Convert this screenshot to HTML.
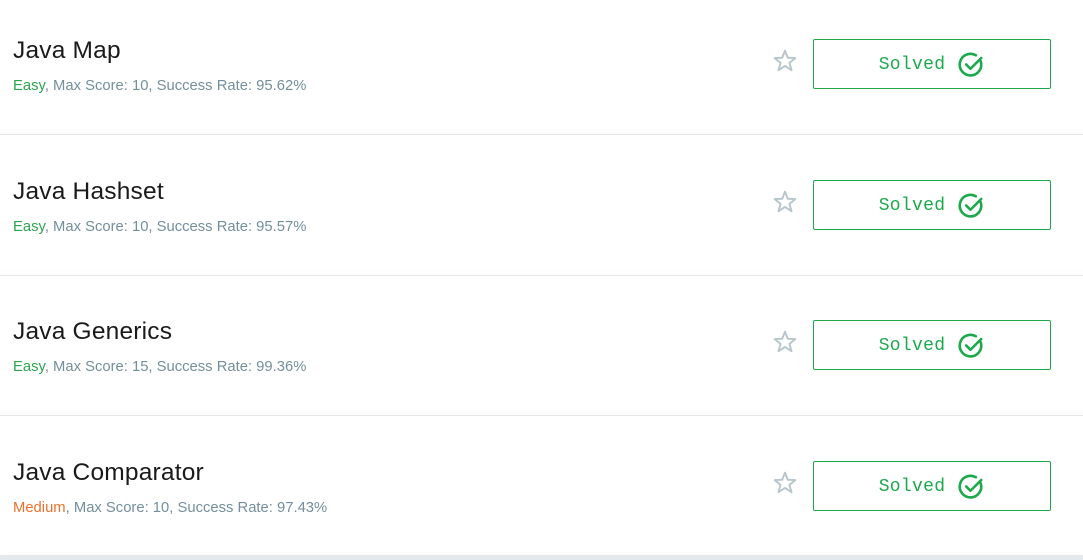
<!DOCTYPE html>
<html><head><meta charset="utf-8"><style>
body{margin:0;width:1083px;height:560px;background:#fff;overflow:hidden;font-family:"Liberation Sans",sans-serif;position:relative}
.card{position:absolute;left:0;width:1083px;height:134px;background:#fff;border-bottom:1px solid #e3e7ea;box-shadow:inset 0 -8px 8px -8px rgba(0,0,0,0.03)}
.title{position:absolute;left:13px;top:37px;font-size:24.5px;color:#1a1a1a;letter-spacing:0.2px}
.sub{position:absolute;left:13px;top:78px;font-size:14.8px;color:#738f9b}
.easy{color:#2ea44f}.med{color:#e8722c}
.star{position:absolute;left:772px;top:48px;width:26px;height:26px}
.btn{position:absolute;left:813px;top:39px;width:236px;height:48px;border:1px solid #1ba94c;border-radius:2px;color:#1ba94c;font-family:"Liberation Mono",monospace;font-size:18px;letter-spacing:0.3px;display:flex;align-items:center;justify-content:center;gap:10px;box-sizing:content-box;padding-top:2px;height:46px}
.btn svg{margin-left:2px}
.bottom{position:absolute;left:0;top:555px;width:1083px;height:5px;background:#e6e9eb}
</style></head><body>
<div class="card" style="top:0">
 <div class="title">Java Map</div>
 <div class="sub"><span class="easy">Easy</span>, Max Score: 10, Success Rate: 95.62%</div>
 <svg class="star" viewBox="0 0 24 24"><polygon points="12,2.5 14.6,9 21.5,9.3 16.1,13.7 18,20.5 12,16.6 6,20.5 7.9,13.7 2.5,9.3 9.4,9" fill="none" stroke="#b7c6cd" stroke-width="1.8" stroke-linejoin="round"/></svg>
 <div class="btn">Solved <svg width="28" height="28" viewBox="0 0 26 26"><path d="M22 9.5A10 10 0 1 1 17.5 4" fill="none" stroke="#1ba94c" stroke-width="2.4" stroke-linecap="round"/><path d="M8.5 12.5l4 4 10-10" fill="none" stroke="#1ba94c" stroke-width="2.4" stroke-linecap="round" stroke-linejoin="round"/></svg></div>
</div>
<div class="card" style="top:140.5px">
 <div class="title">Java Hashset</div>
 <div class="sub"><span class="easy">Easy</span>, Max Score: 10, Success Rate: 95.57%</div>
 <svg class="star" viewBox="0 0 24 24"><polygon points="12,2.5 14.6,9 21.5,9.3 16.1,13.7 18,20.5 12,16.6 6,20.5 7.9,13.7 2.5,9.3 9.4,9" fill="none" stroke="#b7c6cd" stroke-width="1.8" stroke-linejoin="round"/></svg>
 <div class="btn">Solved <svg width="28" height="28" viewBox="0 0 26 26"><path d="M22 9.5A10 10 0 1 1 17.5 4" fill="none" stroke="#1ba94c" stroke-width="2.4" stroke-linecap="round"/><path d="M8.5 12.5l4 4 10-10" fill="none" stroke="#1ba94c" stroke-width="2.4" stroke-linecap="round" stroke-linejoin="round"/></svg></div>
</div>
<div class="card" style="top:281px">
 <div class="title">Java Generics</div>
 <div class="sub"><span class="easy">Easy</span>, Max Score: 15, Success Rate: 99.36%</div>
 <svg class="star" viewBox="0 0 24 24"><polygon points="12,2.5 14.6,9 21.5,9.3 16.1,13.7 18,20.5 12,16.6 6,20.5 7.9,13.7 2.5,9.3 9.4,9" fill="none" stroke="#b7c6cd" stroke-width="1.8" stroke-linejoin="round"/></svg>
 <div class="btn">Solved <svg width="28" height="28" viewBox="0 0 26 26"><path d="M22 9.5A10 10 0 1 1 17.5 4" fill="none" stroke="#1ba94c" stroke-width="2.4" stroke-linecap="round"/><path d="M8.5 12.5l4 4 10-10" fill="none" stroke="#1ba94c" stroke-width="2.4" stroke-linecap="round" stroke-linejoin="round"/></svg></div>
</div>
<div class="card" style="top:421.5px">
 <div class="title">Java Comparator</div>
 <div class="sub"><span class="med">Medium</span>, Max Score: 10, Success Rate: 97.43%</div>
 <svg class="star" viewBox="0 0 24 24"><polygon points="12,2.5 14.6,9 21.5,9.3 16.1,13.7 18,20.5 12,16.6 6,20.5 7.9,13.7 2.5,9.3 9.4,9" fill="none" stroke="#b7c6cd" stroke-width="1.8" stroke-linejoin="round"/></svg>
 <div class="btn">Solved <svg width="28" height="28" viewBox="0 0 26 26"><path d="M22 9.5A10 10 0 1 1 17.5 4" fill="none" stroke="#1ba94c" stroke-width="2.4" stroke-linecap="round"/><path d="M8.5 12.5l4 4 10-10" fill="none" stroke="#1ba94c" stroke-width="2.4" stroke-linecap="round" stroke-linejoin="round"/></svg></div>
</div>
<div class="bottom"></div>
</body></html>
